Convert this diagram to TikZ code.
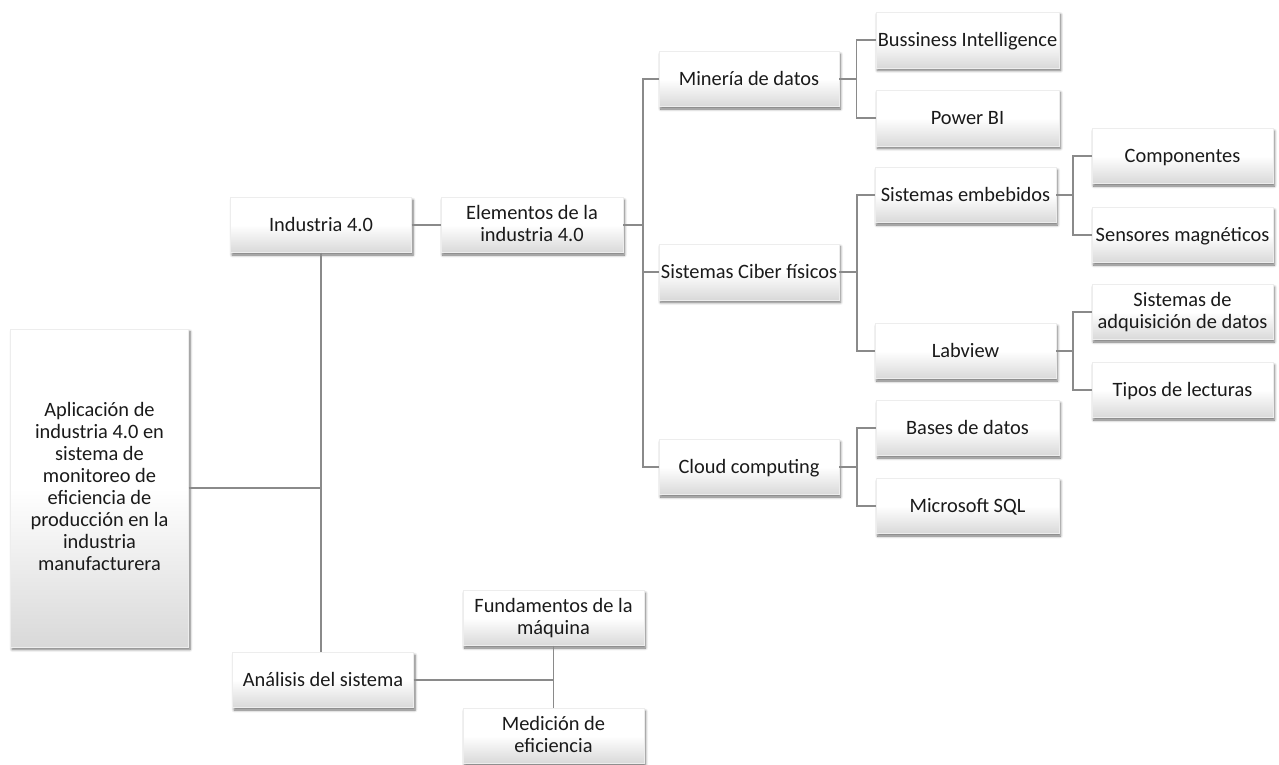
\documentclass[tikz,border=0pt]{standalone}
\usepackage{fontspec}
\setmainfont{Carlito}
\usetikzlibrary{shadows.blur}
\definecolor{linegray}{HTML}{8A8A8A}
\definecolor{inkgray}{HTML}{1A1A1A}
% fixed line extents so every label sits at the same height in its box
\newcommand\boxtopstrut{\rule{0pt}{16pt}}
\newcommand\boxbotstrut{\rule[-3pt]{0pt}{3pt}}
\tikzset{
  box/.style={rectangle, draw=black!7, line width=0.4pt,
    top color=white, bottom color=black!15, middle color=white,
    blur shadow={shadow xshift=1.5pt, shadow yshift=-2.5pt, shadow blur steps=6,
      shadow blur radius=2.5pt, shadow opacity=55},
    align=center, inner sep=2pt, text=inkgray,
    execute at begin node=\boxtopstrut, execute at end node=\boxbotstrut,
    font=\fontsize{20.4}{22}\selectfont},
  stdbox/.style={box, minimum width=181pt, minimum height=55pt},
  conn/.style={draw=linegray, line width=1.4pt}
}
\begin{document}
\begin{tikzpicture}[x=1pt, y=-1pt]
\useasboundingbox (0,0) rectangle (1279,765);

% root and first level
\node[box, minimum width=178pt, minimum height=318pt] (root) at (99.5,488) {Aplicación de\\industria 4.0 en\\sistema de\\monitoreo de\\eficiencia de\\producción en la\\industria\\manufacturera};
\node[stdbox] (ind)  at (321,225) {Industria 4.0};
\node[stdbox] (anal) at (323,680) {Análisis del sistema};

% Industria 4.0 branch
\node[stdbox, minimum width=182pt] (elem) at (532,225) {Elementos de la\\industria 4.0};
\node[stdbox, minimum width=180pt] (mine)  at (749,79)  {Minería de datos};
\node[stdbox, minimum width=180pt, minimum height=56pt] (ciber) at (749,272) {Sistemas Ciber físicos};
\node[stdbox, minimum width=180pt] (cloud) at (749,467) {Cloud computing};

\node[stdbox, minimum width=183pt, minimum height=56pt] (bi)  at (967.5,40)  {Bussiness Intelligence};
\node[stdbox, minimum width=183pt, minimum height=56pt] (pbi) at (967.5,118) {Power BI};

\node[stdbox] (emb) at (965.5,195) {Sistemas embebidos};
\node[stdbox] (lab) at (965.5,351) {Labview};

\node[stdbox] (comp)  at (1182.5,156) {Componentes};
\node[stdbox] (sens)  at (1182.5,235) {Sensores magnéticos};
\node[stdbox] (adq)   at (1182.5,312) {Sistemas de\\adquisición de datos};
\node[stdbox] (tipos) at (1182.5,390) {Tipos de lecturas};

\node[stdbox, minimum width=183pt] (bases) at (967.5,428) {Bases de datos};
\node[stdbox, minimum width=183pt] (msql)  at (967.5,506) {Microsoft SQL};

% Análisis branch
\node[stdbox] (fund) at (553.5,618) {Fundamentos de la\\máquina};
\node[stdbox] (med)  at (553.5,736) {Medición de\\eficiencia};

% connectors
\draw[conn] (ind.south) -- (anal.north -| ind.south);
\draw[conn] (root.east) -- (root.east -| ind.south);
\draw[conn] (ind.east) -- (elem.west);

\draw[conn] (mine.west) -- ++(-16,0) coordinate (busA) |- (cloud.west);
\draw[conn] (elem.east) -- (elem.east -| busA);
\draw[conn] (ciber.west) -- (ciber.west -| busA);

\draw[conn] (bi.west) -- ++(-19,0) coordinate (busB) |- (pbi.west);
\draw[conn] (mine.east) -- (mine.east -| busB);

\draw[conn] (emb.west) -- ++(-18,0) coordinate (busC) |- (lab.west);
\draw[conn] (ciber.east) -- (ciber.east -| busC);

\draw[conn] (comp.west) -- ++(-19,0) coordinate (busD) |- (sens.west);
\draw[conn] (emb.east) -- (emb.east -| busD);

\draw[conn] (adq.west) -- ++(-19,0) coordinate (busE) |- (tipos.west);
\draw[conn] (lab.east) -- (lab.east -| busE);

\draw[conn] (bases.west) -- ++(-19,0) coordinate (busF) |- (msql.west);
\draw[conn] (cloud.east) -- (cloud.east -| busF);

\draw[conn] (anal.east) -- (anal.east -| fund.south);
\draw[conn] (fund.south) -- (med.north);
\end{tikzpicture}
\end{document}
